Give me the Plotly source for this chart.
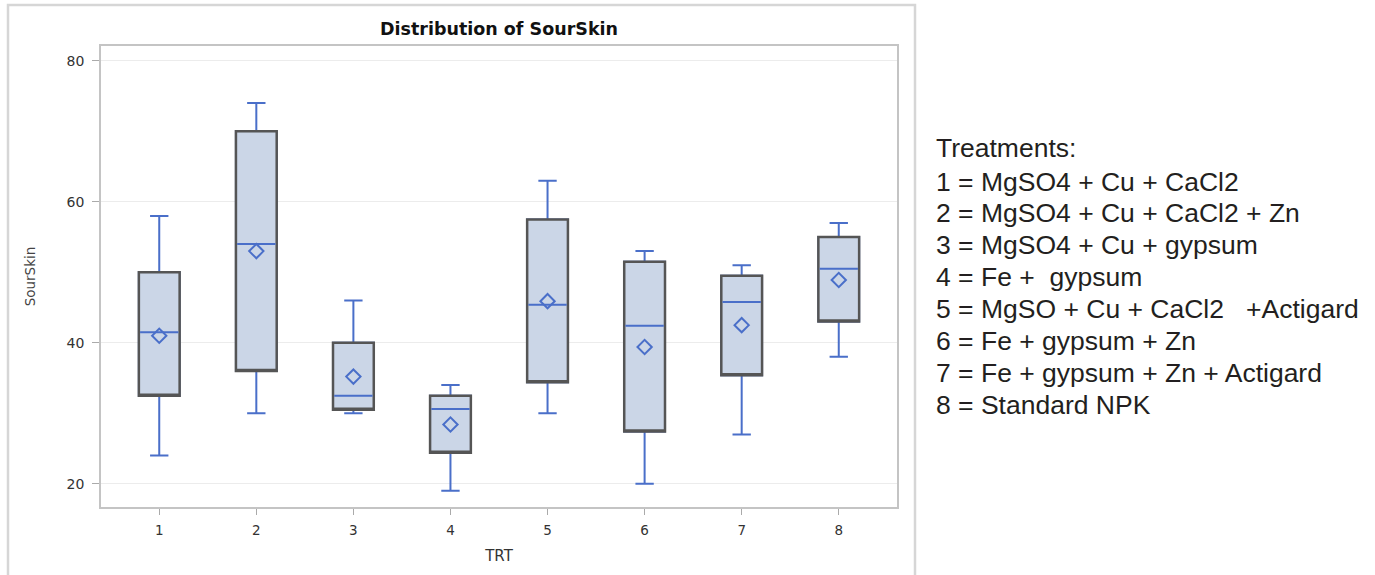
import plotly.graph_objects as go

# Treatment codes and SourSkin summary statistics per treatment
trt = [1, 2, 3, 4, 5, 6, 7, 8]
q1 = [32.5, 36.0, 30.5, 24.4, 34.4, 27.4, 35.4, 43.0]
median = [41.5, 54.0, 32.5, 30.6, 45.4, 42.4, 45.8, 50.5]
q3 = [50.0, 70.0, 40.0, 32.5, 57.5, 51.5, 49.5, 55.0]
whisker_lo = [24, 30, 30, 19, 30, 20, 27, 38]
whisker_hi = [58, 74, 46, 34, 63, 53, 51, 57]
mean = [41.0, 53.0, 35.2, 28.4, 45.9, 39.4, 42.5, 48.9]

y_ticks = [20, 40, 60, 80]

legend_title = "Treatments:"
legend_lines = [
    "1 = MgSO4 + Cu + CaCl2",
    "2 = MgSO4 + Cu + CaCl2 + Zn",
    "3 = MgSO4 + Cu + gypsum",
    "4 = Fe +  gypsum",
    "5 = MgSO + Cu + CaCl2   +Actigard",
    "6 = Fe + gypsum + Zn",
    "7 = Fe + gypsum + Zn + Actigard",
    "8 = Standard NPK",
]

BLUE = "#4a6fc9"
GRAY = "#555555"
FILL = "#cbd6e7"
BOX_W = 0.42

W, H = 1375, 575
ML, MR, MT, MB = 101, 478, 46, 68
PW, PH = W - ML - MR, H - MT - MB


def px_x(px):
    return (px - ML) / PW


def px_y(py):
    return (H - MB - py) / PH


fig = go.Figure()

# whiskers (blue), drawn beneath the box bodies
fig.add_trace(go.Box(
    x=trt, q1=q1, median=median, q3=q3,
    lowerfence=whisker_lo, upperfence=whisker_hi,
    width=BOX_W, whiskerwidth=0.45,
    line=dict(color=BLUE, width=2),
    fillcolor="rgba(0,0,0,0)", boxpoints=False,
    hoverinfo="skip", showlegend=False,
))

# box bodies with gray outline
fig.add_trace(go.Box(
    x=trt, q1=q1, median=q1, q3=q3,
    lowerfence=q1, upperfence=q3,
    width=BOX_W, whiskerwidth=0,
    line=dict(color=GRAY, width=2.5),
    fillcolor=FILL, boxpoints=False,
    hoverinfo="skip", showlegend=False,
))

# median lines (blue)
fig.add_trace(go.Box(
    x=trt, q1=median, median=median, q3=median,
    lowerfence=median, upperfence=median,
    width=BOX_W - 0.025, whiskerwidth=0,
    line=dict(color=BLUE, width=2),
    fillcolor="rgba(0,0,0,0)", boxpoints=False,
    hoverinfo="skip", showlegend=False,
))

# means
fig.add_trace(go.Scatter(
    x=trt, y=mean, mode="markers",
    marker=dict(symbol="diamond-open", size=11, color=BLUE,
                line=dict(color=BLUE, width=2)),
    hoverinfo="skip", showlegend=False,
))

annotations = [
    dict(text=legend_title, x=px_x(934), y=px_y(148)),
]
for i, line in enumerate(legend_lines):
    annotations.append(dict(text=line, x=px_x(934), y=px_y(181.5 + i * 31.9)))
for a in annotations:
    a.update(xref="paper", yref="paper", xanchor="left", yanchor="middle",
             showarrow=False,
             font=dict(family="Liberation Sans, Arial", size=26.5, color="#231f20"))

fig.update_layout(
    width=W, height=H,
    margin=dict(l=ML, r=MR, t=MT, b=MB),
    paper_bgcolor="white", plot_bgcolor="white",
    boxmode="overlay",
    title=dict(text="<b>Distribution of SourSkin</b>", xref="paper", x=0.5,
               xanchor="center", y=1 - 29 / H, yanchor="middle",
               font=dict(family="DejaVu Sans", size=17.5, color="#111")),
    xaxis=dict(
        range=[0.4, 8.6], tickvals=trt, ticktext=[str(t) for t in trt],
        showgrid=False, zeroline=False,
        showline=True, mirror=True, linecolor="#c4c4c4", linewidth=1.5,
        ticks="outside", ticklen=6, tickcolor="#aaa",
        ticklabelstandoff=4,
        tickfont=dict(family="DejaVu Sans", size=13.5, color="#333"),
        title=dict(text="TRT", standoff=14,
                   font=dict(family="DejaVu Sans", size=15, color="#333")),
    ),
    yaxis=dict(
        range=[16.7, 82.1], tickvals=y_ticks,
        showgrid=True, gridcolor="#ececec", gridwidth=1, zeroline=False,
        showline=True, mirror=True, linecolor="#c4c4c4", linewidth=1.5,
        ticks="outside", ticklen=7, tickcolor="#aaa",
        ticklabelstandoff=5,
        tickfont=dict(family="DejaVu Sans", size=14, color="#333"),
        title=dict(text="SourSkin", standoff=28,
                   font=dict(family="DejaVu Sans", size=13.5, color="#444")),
    ),
    annotations=annotations,
    shapes=[
        dict(type="rect", xref="paper", yref="paper",
             x0=px_x(8), x1=px_x(915), y0=px_y(600), y1=px_y(5),
             line=dict(color="#d6d6d6", width=2.5), fillcolor="rgba(0,0,0,0)",
             layer="below"),
    ],
)

fig.write_html("out.html")
